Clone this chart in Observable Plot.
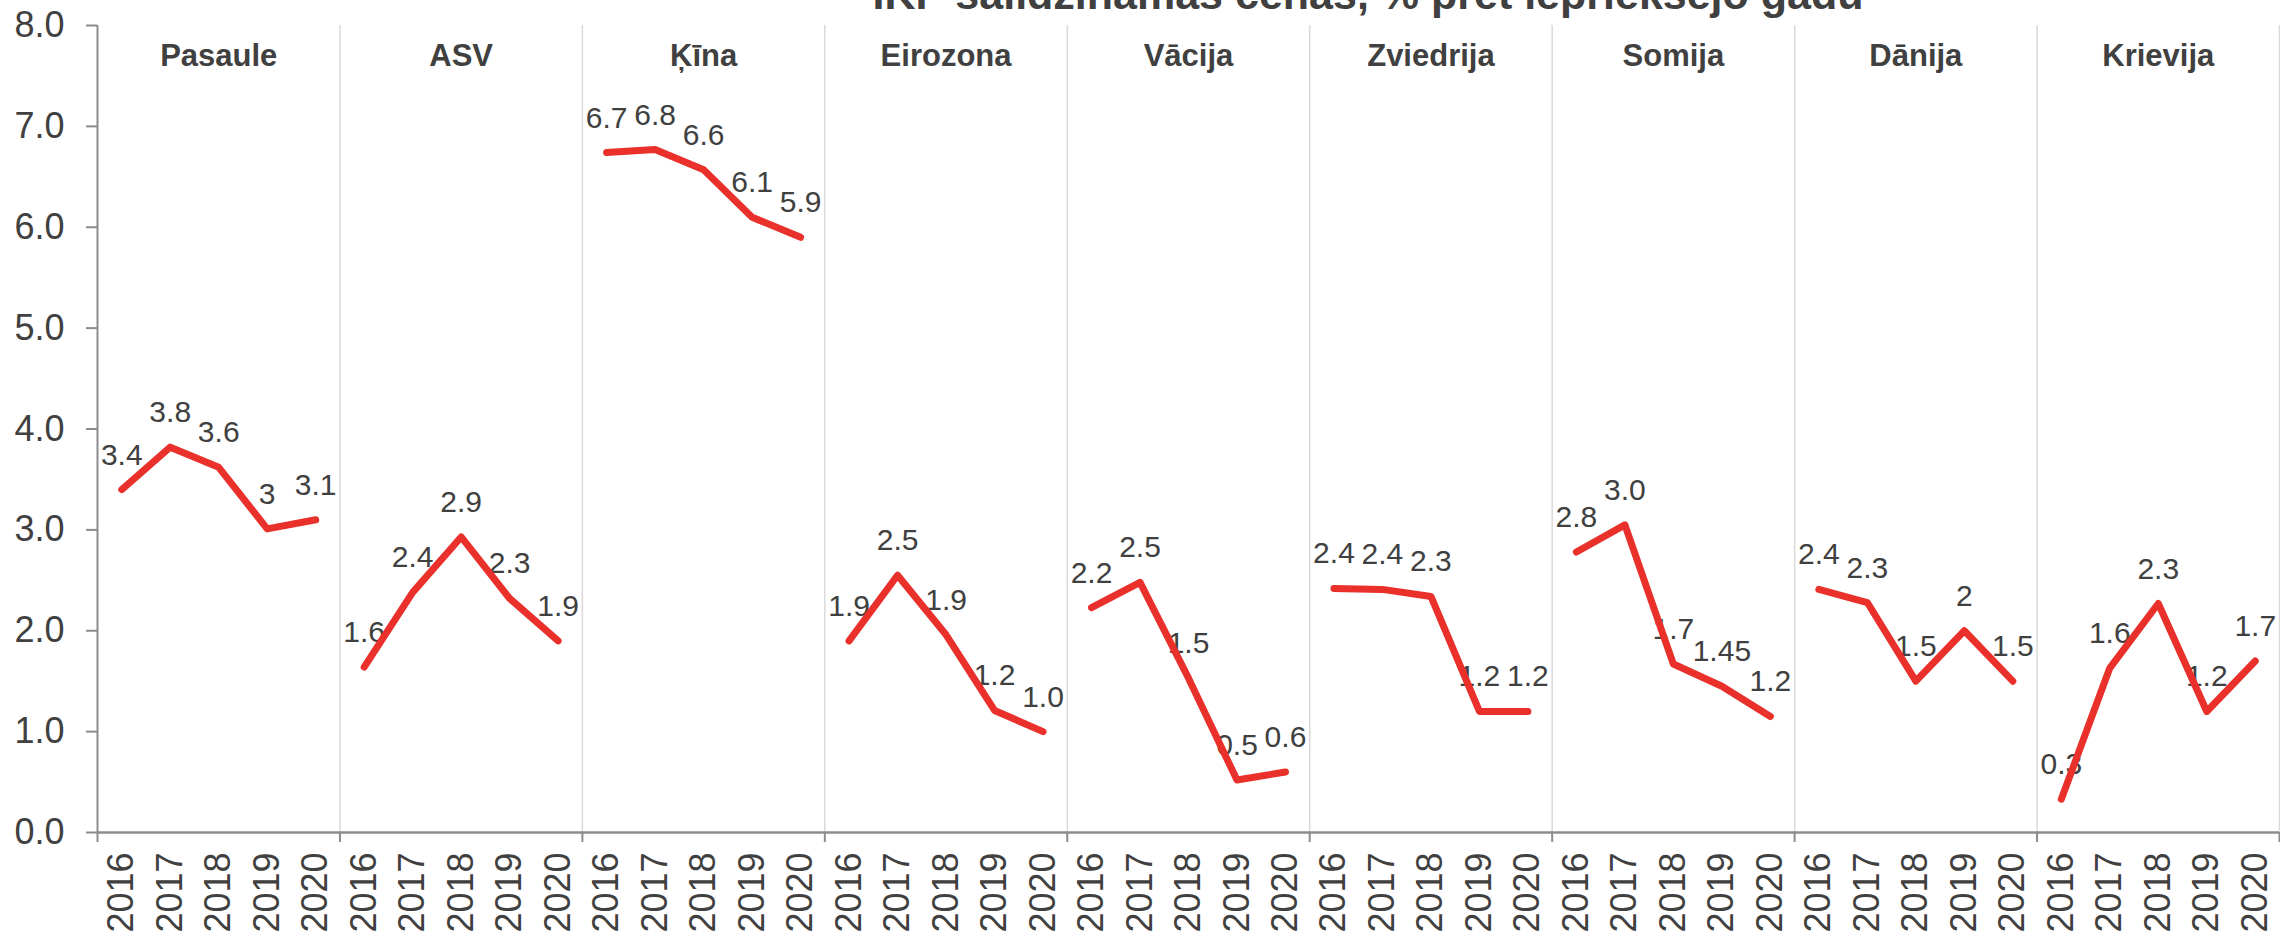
<!DOCTYPE html>
<html><head><meta charset="utf-8">
<script src="https://cdn.jsdelivr.net/npm/d3@7"></script>
<script src="https://cdn.jsdelivr.net/npm/@observablehq/plot@0.6"></script>
<style>
body{margin:0;background:#fff;overflow:hidden}
#chart svg{font-family:"Liberation Sans",Arial,sans-serif}
</style>
</head><body><div id="chart"></div>
<script>
const title = "IKP salīdzināmās cenās, % pret iepriekšējo gadu";
const countries = ["Pasaule","ASV","Ķīna","Eirozona","Vācija","Zviedrija","Somija","Dānija","Krievija"];
const years = ["2016","2017","2018","2019","2020"];
const values = [
  [3.4, 3.82, 3.62, 3.01, 3.1],
  [1.64, 2.38, 2.93, 2.32, 1.9],
  [6.74, 6.77, 6.57, 6.1, 5.9],
  [1.9, 2.55, 1.96, 1.21, 1.0],
  [2.23, 2.48, 1.53, 0.52, 0.6],
  [2.42, 2.41, 2.34, 1.2, 1.2],
  [2.78, 3.05, 1.67, 1.45, 1.15],
  [2.41, 2.28, 1.5, 2.0, 1.5],
  [0.33, 1.63, 2.27, 1.2, 1.7]
];
const labels = [
  ["3.4","3.8","3.6","3","3.1"],
  ["1.6","2.4","2.9","2.3","1.9"],
  ["6.7","6.8","6.6","6.1","5.9"],
  ["1.9","2.5","1.9","1.2","1.0"],
  ["2.2","2.5","1.5","0.5","0.6"],
  ["2.4","2.4","2.3","1.2","1.2"],
  ["2.8","3.0","1.7","1.45","1.2"],
  ["2.4","2.3","1.5","2","1.5"],
  ["0.3","1.6","2.3","1.2","1.7"]
];
const yTicks = [0,1,2,3,4,5,6,7,8];

const n = years.length;
const rows = [];
countries.forEach((c,i) => years.forEach((yr,j) => rows.push({country:c, year:yr, pos:i*n+j+0.5, value:values[i][j], label:labels[i][j]})));
const edges = d3.range(0, countries.length*n + 1, n);
const panels = countries.map((c,i) => ({country:c, mid:i*n + n/2}));
const yearTicks = rows.map(r => r.pos);

const ink = "#404040";
const axisGray = "#8c8c8c";

const chart = Plot.plot({
  width: 2280, height: 937,
  marginLeft: 97, marginRight: 1, marginTop: 25, marginBottom: 105,
  style: {fontFamily: '"Liberation Sans", Arial, sans-serif', background: "white", overflow: "visible"},
  x: {domain: [0, countries.length*n], axis: null},
  y: {domain: [0, 8], axis: null},
  marks: [
    Plot.ruleX(edges.slice(1), {stroke: "#d9d9d9", strokeWidth: 1.5}),
    Plot.ruleX([0], {stroke: axisGray, strokeWidth: 2}),
    Plot.ruleY([0], {stroke: axisGray, strokeWidth: 2.5}),
    Plot.axisY({ticks: yTicks, tickFormat: d => d.toFixed(1), tickSize: 11, tickPadding: 22, fontSize: 36, stroke: axisGray, strokeWidth: 2, fill: ink, label: null}),
    Plot.axisX({ticks: edges, tickFormat: () => "", tickSize: 10, stroke: axisGray, strokeWidth: 2, label: null}),
    Plot.axisX({ticks: yearTicks, tickFormat: d => years[Math.floor(d) % n], tickRotate: -90, tickSize: 0, tickPadding: 20, fontSize: 36, fill: ink, label: null}),
    Plot.text(panels, {x: "mid", text: "country", frameAnchor: "top", dy: 40, lineAnchor: "bottom", fontSize: 31, fontWeight: "bold", fill: ink}),
    Plot.text(rows, {x: "pos", y: "value", text: "label", dy: -25, lineAnchor: "bottom", fontSize: 30, fill: ink}),
    Plot.line(rows, {x: "pos", y: "value", z: "country", stroke: "#e9302b", strokeWidth: 7, strokeLinecap: "round", strokeLinejoin: "round"}),
    Plot.text([title], {text: d => d, frameAnchor: "top-left", dx: 775, dy: -17, textAnchor: "start", lineAnchor: "bottom", fontSize: 43, fontWeight: "bold", fill: ink})
  ]
});
document.getElementById("chart").appendChild(chart);
</script>
</body></html>
